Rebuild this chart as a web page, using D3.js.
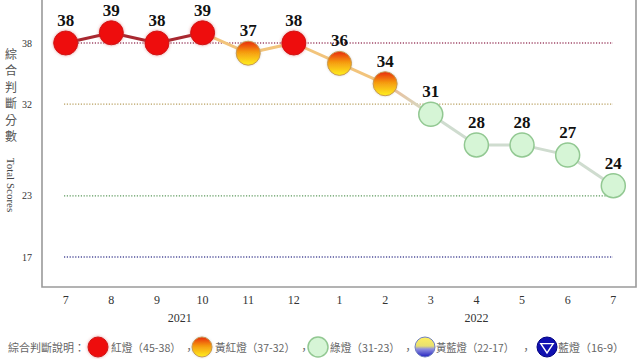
<!DOCTYPE html>
<html><head><meta charset="utf-8">
<script src="https://cdn.jsdelivr.net/npm/d3@7"></script>
<style>
html,body{margin:0;padding:0;background:#fff;}
svg{display:block;}
</style></head>
<body>
<svg id="chart" width="640" height="359"></svg>
<script>
const months = ["7","8","9","10","11","12","1","2","3","4","5","6","7"];
const scores = [38,39,38,39,37,38,36,34,31,28,28,27,24];
const years = [{label:"2021", from:0, to:5},{label:"2022", from:6, to:12}];
const yTicks = [38,32,23,17];
const refLines = [
  {v:38, color:"#a04868"},
  {v:32, color:"#b8a060"},
  {v:23, color:"#5e9a5e"},
  {v:17, color:"#50509a"}
];
const legendItems = [
  {type:"red", label:"紅燈（45-38）"},
  {type:"yr", label:"黃紅燈（37-32）"},
  {type:"green", label:"綠燈（31-23）"},
  {type:"yb", label:"黃藍燈（22-17）"},
  {type:"blue", label:"藍燈（16-9）"}
];

function lightType(v){
  if(v>=38) return "red";
  if(v>=32) return "yr";
  if(v>=23) return "green";
  if(v>=17) return "yb";
  return "blue";
}

const svg = d3.select("#chart");
const defs = svg.append("defs");
const gyr = defs.append("linearGradient").attr("id","gYR").attr("x1",0).attr("y1",0).attr("x2",0).attr("y2",1);
gyr.append("stop").attr("offset","0%").attr("stop-color","#e82a10");
gyr.append("stop").attr("offset","45%").attr("stop-color","#f59a10");
gyr.append("stop").attr("offset","100%").attr("stop-color","#fff020");
const gyb = defs.append("linearGradient").attr("id","gYB").attr("x1",0).attr("y1",0).attr("x2",0).attr("y2",1);
gyb.append("stop").attr("offset","0%").attr("stop-color","#fff060");
gyb.append("stop").attr("offset","45%").attr("stop-color","#e8e070");
gyb.append("stop").attr("offset","60%").attr("stop-color","#9090e0");
gyb.append("stop").attr("offset","100%").attr("stop-color","#2020c0");
const glow = defs.append("filter").attr("id","glow").attr("x","-50%").attr("y","-50%").attr("width","200%").attr("height","200%");
glow.append("feGaussianBlur").attr("in","SourceAlpha").attr("stdDeviation",1.6).attr("result","b");
glow.append("feFlood").attr("flood-color","#d04040").attr("flood-opacity",0.55);
glow.append("feComposite").attr("in2","b").attr("operator","in").attr("result","s");
const fm = glow.append("feMerge");
fm.append("feMergeNode").attr("in","s");
fm.append("feMergeNode").attr("in","SourceGraphic");
const sh = defs.append("filter").attr("id","soft").attr("x","-50%").attr("y","-50%").attr("width","200%").attr("height","200%");
sh.append("feGaussianBlur").attr("in","SourceAlpha").attr("stdDeviation",1.2).attr("result","b");
sh.append("feFlood").attr("flood-color","#888").attr("flood-opacity",0.35);
sh.append("feComposite").attr("in2","b").attr("operator","in").attr("result","s");
const fm2 = sh.append("feMerge");
fm2.append("feMergeNode").attr("in","s");
fm2.append("feMergeNode").attr("in","SourceGraphic");

const x = d3.scalePoint().domain(d3.range(months.length)).range([65.7, 613.3]);
const y = d3.scaleLinear().domain([17, 38]).range([257, 43]);
const plotL = 42, plotR = 636, plotB = 287, plotT = -2;

// frame
svg.append("path")
  .attr("d", `M${plotL},${plotT}V${plotB}H${plotR}V${plotT}`)
  .attr("fill","none").attr("stroke","#9a9a9a").attr("stroke-width",1.6);

// reference lines
svg.selectAll(".ref").data(refLines).enter().append("line")
  .attr("x1", 64).attr("x2", 613)
  .attr("y1", d=>y(d.v)).attr("y2", d=>y(d.v))
  .attr("stroke", d=>d.color).attr("stroke-width",1.3)
  .attr("stroke-dasharray","1.2,1.6");

// y tick labels
svg.selectAll(".yt").data(yTicks).enter().append("text")
  .attr("x", 27).attr("y", d=>y(d)+3.5)
  .attr("text-anchor","middle")
  .attr("font-family","'Liberation Serif', 'Times New Roman', serif")
  .attr("font-size",10).attr("fill","#333")
  .text(d=>d);

// y title
const titleChars = "綜合判斷分數".split("");
svg.selectAll(".yc").data(titleChars).enter().append("text")
  .attr("x", 11).attr("y", (d,i)=>59 + i*16.4)
  .attr("text-anchor","middle")
  .attr("font-family","'Noto Sans CJK TC', sans-serif")
  .attr("font-size",12).attr("fill","#555")
  .text(d=>d);
svg.append("text")
  .attr("transform","translate(7,185) rotate(90)")
  .attr("text-anchor","middle")
  .attr("font-family","'Liberation Serif', 'Times New Roman', serif")
  .attr("font-size",11).attr("fill","#444")
  .text("Total Scores");

// x labels
svg.selectAll(".xt").data(months).enter().append("text")
  .attr("x", (d,i)=>x(i)).attr("y", 303.5)
  .attr("text-anchor","middle")
  .attr("font-family","'Liberation Serif', 'Times New Roman', serif")
  .attr("font-size",12).attr("fill","#333")
  .text(d=>d);
svg.selectAll(".yr").data(years).enter().append("text")
  .attr("x", d=>(x(d.from)+x(d.to))/2).attr("y", 321.5)
  .attr("text-anchor","middle")
  .attr("font-family","'Liberation Serif', 'Times New Roman', serif")
  .attr("font-size",12).attr("fill","#333")
  .text(d=>d.label);

// line segments
const segColor = {red:"#a82830", yr:"#f2c47c", green:"#cfdccf"};
for(let i=0;i<scores.length-1;i++){
  const a = lightType(scores[i]), b = lightType(scores[i+1]);
  let col;
  if(a==="red" && b==="red") col = segColor.red;
  else if(a==="green" && b==="green") col = segColor.green;
  else if(a!==b && (a==="green"||b==="green")) {
    const gid = "seg"+i;
    const lgr = defs.append("linearGradient").attr("id",gid).attr("gradientUnits","userSpaceOnUse")
      .attr("x1",x(i)).attr("y1",y(scores[i])).attr("x2",x(i+1)).attr("y2",y(scores[i+1]));
    lgr.append("stop").attr("offset","0%").attr("stop-color","#f0b890");
    lgr.append("stop").attr("offset","100%").attr("stop-color","#cfe0cf");
    col = `url(#${gid})`;
  }
  else col = segColor.yr;
  svg.append("line")
    .attr("x1",x(i)).attr("y1",y(scores[i]))
    .attr("x2",x(i+1)).attr("y2",y(scores[i+1]))
    .attr("stroke",col).attr("stroke-width",3);
}

function drawLight(g, type, r){
  if(type==="red"){
    g.append("circle").attr("r",r).attr("fill","#ee0a0a").attr("stroke","#d01818").attr("stroke-width",1).attr("filter","url(#glow)");
  } else if(type==="yr"){
    g.append("circle").attr("r",r).attr("fill","url(#gYR)").attr("stroke","#c89a50").attr("stroke-width",1).attr("filter","url(#soft)");
  } else if(type==="green"){
    g.append("circle").attr("r",r).attr("fill","#d6f5d6").attr("stroke","#92c892").attr("stroke-width",1.5);
  } else if(type==="yb"){
    g.append("circle").attr("r",r).attr("fill","url(#gYB)").attr("stroke","#7080c0").attr("stroke-width",1);
  } else {
    g.append("circle").attr("r",r).attr("fill","#1010b0").attr("stroke","#000080").attr("stroke-width",1);
    const t = r*0.62;
    g.append("path").attr("d",`M${-t},${-t*0.55}L${t},${-t*0.55}L0,${t*0.95}Z`)
      .attr("fill","none").attr("stroke","#fff").attr("stroke-width",1.4);
  }
}

// points
const pts = svg.selectAll(".pt").data(scores).enter().append("g")
  .attr("transform",(d,i)=>`translate(${x(i)},${y(d)})`);
pts.each(function(d){ drawLight(d3.select(this), lightType(d), 12); });

// value labels
svg.selectAll(".vl").data(scores).enter().append("text")
  .attr("x",(d,i)=>x(i)).attr("y",d=>y(d)-17)
  .attr("text-anchor","middle")
  .attr("font-family","'Liberation Serif', 'Times New Roman', serif")
  .attr("font-weight","bold").attr("font-size",17).attr("fill","#111")
  .text(d=>d);

// legend
const lg = svg.append("g");
const lf = "'Noto Sans CJK TC', sans-serif";
const lfs = 11;
lg.append("text").attr("x",8).attr("y",351.5).attr("font-family",lf).attr("font-size",lfs).attr("fill","#666").text("綜合判斷說明：");
const legX = [98, 202, 318, 425, 547];
const textX = [111, 215, 330, 436, 558];
const textW = [70, 80, 70, 78, 66];
const commaX = [189, 304, 408, 526];
legendItems.forEach((it,i)=>{
  const g = lg.append("g").attr("transform",`translate(${legX[i]},347)`);
  drawLight(g, it.type, 10);
  lg.append("text").attr("x",textX[i]).attr("y",351.5).attr("font-family",lf).attr("font-size",lfs).attr("fill","#666")
    .attr("textLength",textW[i]).attr("lengthAdjust","spacingAndGlyphs").text(it.label);
  if(i<legendItems.length-1){
    lg.append("text").attr("x",commaX[i]).attr("y",354).attr("text-anchor","middle").attr("font-family",lf).attr("font-size",lfs).attr("fill","#666").text("，");
  }
});
</script>
</body></html>
